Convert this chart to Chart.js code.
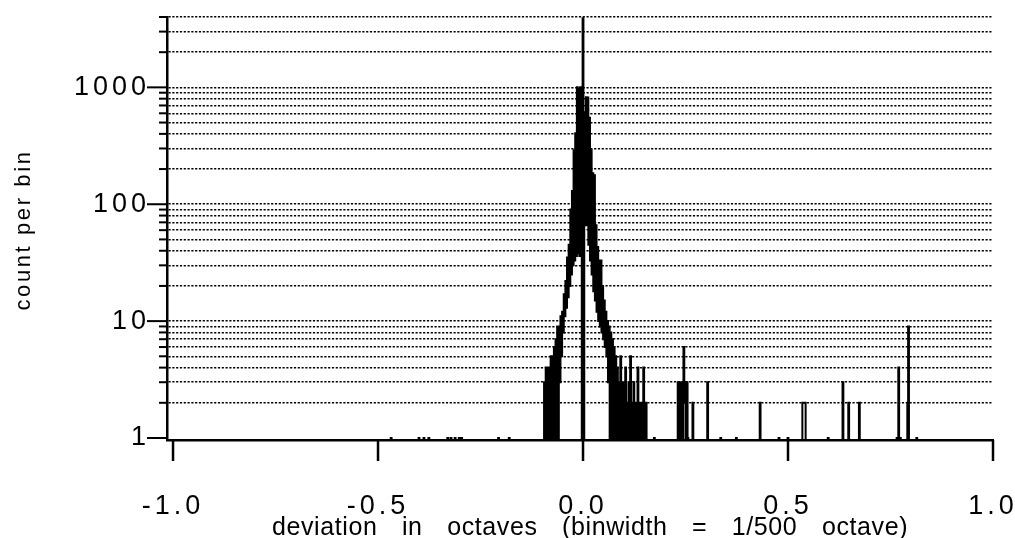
<!DOCTYPE html>
<html><head><meta charset="utf-8">
<script src="https://cdn.jsdelivr.net/npm/chart.js@4.4.1/dist/chart.umd.min.js"></script>
<style>html,body{margin:0;padding:0;background:#fff}#wrap{width:1015px;height:538px;position:relative}</style>
</head><body><div id="wrap"><canvas id="c" width="1015" height="538"></canvas></div>
<script>
// ---- data ----
const binWidth = 0.002;            // 1/500 octave
const firstBin = -500, lastBin = 500;
// counts for bins -50 .. +80 (central peak)
const coreStartBin = -50;
const coreCounts = [
  0,0,0,3,0,4,0,4,0,4,
  0,5,0,5,0,6,0,7,0,9,
  1,9,3,11,5,12,8,17,11,22,
  13,35,16,45,20,90,25,130,30,290,
  33,405,36,1000,38,980,36,1000,40,0,
  3900,
  0,611,66,822,66,820,45,550,33,290,
  25,184,18,177,15,66,12,43,10,33,
  9,33,8,20,7,15,6,12,5,10,
  3,9,0,8,0,7,0,6,0,5,
  0,4,0,3,0,5,0,3,0,3,
  0,4,0,2,0,3,0,5,0,2,
  0,3,0,2,0,2,4,0,2,0,
  2,0,0,4,0,2,2,0,0,0
];
// isolated bins outside the central region
const outlierBins = [-234,-200,-194,-188,-165,-161,-156,-151,-148,-103,-90,
  87,116,118,119,120,121,123,124,125,127,128,134,152,168,187,216,239,250,
  268,269,270,271,299,317,324,337,383,385,387,396,397,407];
const outlierCounts = [1,1,1,1,1,1,1,1,1,1,1,
  1,3,3,1,2,3,6,2,3,3,1,2,3,1,1,2,1,1,
  2,2,2,2,1,3,2,2,1,4,1,2,9,1];

const yTickValues = [1, 10, 100, 1000];
const yTickLabels = ['1', '10', '100', '1000'];
const yGridValues = [2,3,4,5,6,7,8,9,10,20,30,40,50,60,70,80,90,100,200,300,400,500,600,700,800,900,1000,2000,3000,4000];
const xTickValues = [-1, -0.5, 0, 0.5, 1];
const xTickLabels = ['-1.0', '-0.5', '0.0', '0.5', '1.0'];
const xTitle = 'deviation in octaves (binwidth = 1/500 octave)';
const yTitle = 'count per bin';

const Y_MIN = 0.961, Y_MAX = 4000;

// ---- build histogram table (empty bins sit on the axis floor of the log scale) ----
const counts = {};
coreCounts.forEach((c, i) => { counts[coreStartBin + i] = c; });
outlierBins.forEach((b, i) => { counts[b] = outlierCounts[i]; });
const points = [];
for (let k = firstBin; k <= lastBin; k++) {
  const c = counts[k] || 0;
  points.push({ x: k * binWidth, y: c > 0 ? c : Y_MIN });
}

const FONT = '"Liberation Sans", Arial, Helvetica, sans-serif';

const decor = {
  id: 'decor',
  beforeDraw(chart) {
    chart.ctx.letterSpacing = '4px';
  },
  afterDraw(chart) {
    const { ctx, scales: { x, y }, chartArea: a } = chart;
    ctx.save();
    ctx.letterSpacing = '0px';
    ctx.strokeStyle = '#000';
    ctx.lineCap = 'butt';
    // y tick marks
    ctx.lineWidth = 2;
    yGridValues.concat([1]).forEach(v => {
      const py = y.getPixelForValue(v);
      const len = yTickValues.includes(v) ? 20 : 8;
      ctx.beginPath(); ctx.moveTo(a.left - len, py); ctx.lineTo(a.left, py); ctx.stroke();
    });
    // x tick marks
    ctx.lineWidth = 2.5;
    xTickValues.forEach(v => {
      const px = x.getPixelForValue(v);
      ctx.beginPath(); ctx.moveTo(px, a.bottom); ctx.lineTo(px, a.bottom + 21); ctx.stroke();
    });
    // axis titles
    ctx.fillStyle = '#000';
    ctx.font = '25px ' + FONT;
    ctx.letterSpacing = '0.6px';
    ctx.wordSpacing = '17px';
    ctx.textAlign = 'center';
    ctx.textBaseline = 'alphabetic';
    ctx.fillText(xTitle, 590, 535);
    ctx.translate(24, 230);
    ctx.rotate(-Math.PI / 2);
    ctx.font = '22px ' + FONT;
    ctx.textBaseline = 'middle';
    ctx.letterSpacing = '2.6px';
    ctx.wordSpacing = '0px';
    ctx.fillText(yTitle, 0, 0);
    ctx.restore();
    ctx.letterSpacing = '0px';
    ctx.wordSpacing = '0px';
  }
};

function noPad(s) { s.paddingLeft = 0; s.paddingRight = 0; s.paddingTop = 0; s.paddingBottom = 0; }

new Chart(document.getElementById('c'), {
  type: 'line',
  data: {
    datasets: [{
      data: points,
      stepped: 'middle',
      borderColor: '#000',
      borderWidth: 2,
      pointRadius: 0,
      fill: false,
      tension: 0,
      spanGaps: true
    }]
  },
  options: {
    responsive: false,
    animation: false,
    devicePixelRatio: 1,
    layout: { padding: { top: 17, right: 22, left: 0, bottom: 0 } },
    plugins: { legend: { display: false }, tooltip: { enabled: false } },
    scales: {
      x: {
        type: 'linear',
        min: -1.0147,
        max: 1.0,
        afterFit: s => { s.height = 98; noPad(s); },
        afterBuildTicks: s => { s.ticks = xTickValues.map(v => ({ value: v })); },
        grid: { display: false, drawTicks: false },
        border: { display: true, color: '#000', width: 2.5 },
        ticks: {
          autoSkip: false,
          maxRotation: 0,
          padding: 50,
          color: '#000',
          font: { family: FONT, size: 27 },
          callback: v => { const i = xTickValues.indexOf(v); return i >= 0 ? xTickLabels[i] : ''; }
        }
      },
      y: {
        type: 'logarithmic',
        min: Y_MIN,
        max: Y_MAX,
        afterFit: s => { s.width = 167; noPad(s); },
        afterBuildTicks: s => { s.ticks = [1].concat(yGridValues).map(v => ({ value: v })); },
        grid: {
          display: true,
          drawTicks: false,
          color: ctx => (ctx.tick && ctx.tick.value === 1) ? 'rgba(0,0,0,0)' : '#000',
          lineWidth: 1.5
        },
        border: { display: true, color: '#000', width: 2.5, dash: [2.2, 1.6] },
        ticks: {
          autoSkip: false,
          padding: 17,
          color: '#000',
          font: { family: FONT, size: 27 },
          callback: v => { const i = yTickValues.indexOf(v); return i >= 0 ? yTickLabels[i] : ''; }
        }
      }
    }
  },
  plugins: [decor]
});
</script>
</body></html>
